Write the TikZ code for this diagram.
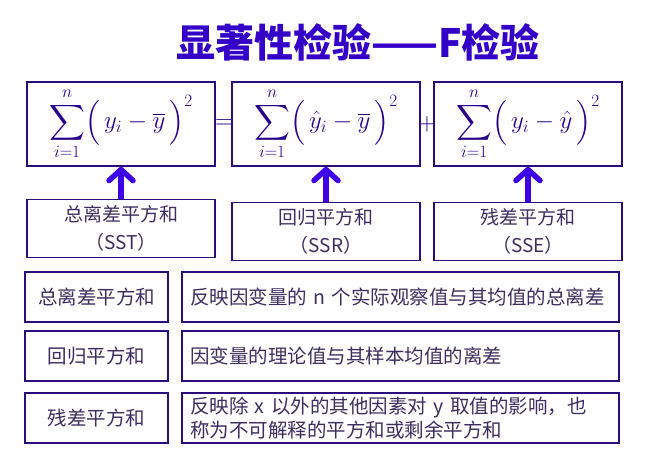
\documentclass[tikz,border=0pt]{standalone}
\definecolor{titleBlue}{RGB}{52,0,200}
\definecolor{arrowBlue}{RGB}{62,0,230}
\definecolor{boxBorder}{RGB}{42,12,125}
\definecolor{labelInk}{RGB}{62,45,95}
\definecolor{sumInk}{RGB}{40,0,140}
\usepackage{amsmath}
\usepackage{fontspec}
\newfontfamily\cjk{Noto Sans CJK SC}
\usepackage{tikz}
\usetikzlibrary{arrows.meta,positioning}

\begin{document}
\begin{tikzpicture}[x=1pt,y=-1pt,
    every node/.style={font=\cjk, text=labelInk},
    sumbox/.style={draw=boxBorder, line width=1.6pt, minimum width=188pt,
      minimum height=84pt, inner sep=0pt, text=sumInk,
      font=\fontsize{25}{30}\selectfont},
    namebox/.style={draw=boxBorder, line width=1.6pt, minimum width=188pt,
      minimum height=58pt, align=center,
      font=\cjk\fontsize{19}{28}\selectfont},
    keybox/.style={draw=boxBorder, line width=1.6pt, minimum width=143pt,
      minimum height=50pt, font=\cjk\fontsize{19.5}{24}\selectfont},
    descbox/.style={draw=boxBorder, line width=1.6pt, minimum height=50pt,
      text width=421pt, inner xsep=8pt, align=left,
      font=\cjk\fontsize{19.5}{24}\selectfont},
    arr/.style={-{Straight Barb[length=11pt,width=24pt,round]},
      line width=5.5pt, arrowBlue}
  ]
  \useasboundingbox[fill=white] (0,0) rectangle (658,450);
  % Title
  \node[font=\cjk\bfseries\fontsize{39}{42}\selectfont, text=titleBlue]
    (title) at (358,42) {显著性检验——F检验};
  % Sums of squares
  \node[sumbox] (sst) at (121,124)
    {$\displaystyle\sum_{i=1}^{n}\Bigl(\,y_i-\overline{y}\,\Bigr)^{2}$};
  \node[sumbox] (ssr) at (326,124)
    {$\displaystyle\sum_{i=1}^{n}\Bigl(\,\hat{y}_i-\overline{y}\,\Bigr)^{2}$};
  \node[sumbox] (sse) at (528,124)
    {$\displaystyle\sum_{i=1}^{n}\Bigl(\,y_i-\hat{y}\,\Bigr)^{2}$};
  \node[text=sumInk, font=\fontsize{25}{30}\selectfont] (eqsign) at (224,124) {$=$};
  \node[text=sumInk, font=\fontsize{25}{30}\selectfont] (plussign) at (427,124) {$+$};
  % Names below
  \node[namebox] (sstname) at (121,228.5) {总离差平方和\\（SST）};
  \node[namebox] (ssrname) at (326,231.5) {回归平方和\\（SSR）};
  \node[namebox] (ssename) at (528,231.5) {残差平方和\\（SSE）};
  \draw[arr] (sstname) -- (sst);
  \draw[arr] (ssrname) -- (ssr);
  \draw[arr] (ssename) -- (sse);
  % Table of meanings
  \node[keybox] (sstkey) at (96.5,297) {总离差平方和};
  \node[descbox] (sstdesc) at (400.5,297) {反映因变量的~n~个实际观察值与其均值的总离差};
  \node[keybox] (ssrkey) at (96.5,356) {回归平方和};
  \node[descbox] (ssrdesc) at (400.5,356) {因变量的理论值与其样本均值的离差};
  \node[keybox] (ssekey) at (96.5,418) {残差平方和};
  \node[descbox] (ssedesc) at (400.5,418)
    {反映除~x~以外的其他因素对~y~取值的影响，也\\称为不可解释的平方和或剩余平方和};
\end{tikzpicture}
\end{document}
